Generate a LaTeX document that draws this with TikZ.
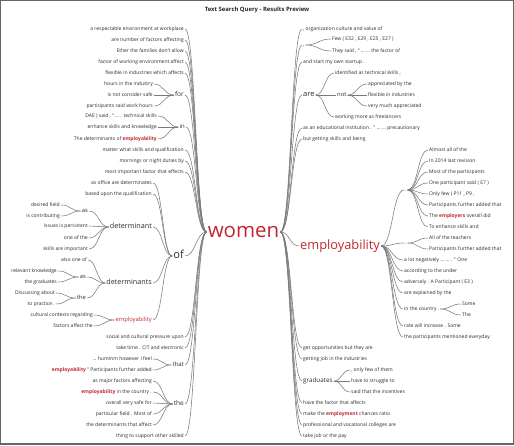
\documentclass[tikz,border=0pt]{standalone}
\usepackage{fontspec}
\setmainfont{Open Sans}
\usetikzlibrary{calc}
\definecolor{txt}{HTML}{2A2A2A}
\definecolor{hl}{HTML}{C0272D}
\definecolor{conncol}{HTML}{7A7A7A}
\newcommand\hw[1]{{\color{hl}\bfseries #1}}
\newcommand\lkL[2]{\draw[lk] let \p1=(#1.west), \p2=(#2.east) in (\p1) .. controls ({0.5*\x1+0.5*\x2},\y1) and ({0.5*\x1+0.5*\x2},\y2) .. (\p2);}
\newcommand\lkR[2]{\draw[lk] let \p1=(#1.east), \p2=(#2.west) in (\p1) .. controls ({0.5*\x1+0.5*\x2},\y1) and ({0.5*\x1+0.5*\x2},\y2) .. (\p2);}
\begin{document}
\begin{tikzpicture}[x=1pt,y=-1pt,
 fs/.style={font=\fontsize{#1}{#1}\selectfont, text height={#1pt*0.72}, text depth={#1pt*0.22}, inner xsep=1pt, inner ysep=0pt, text=txt},
 lf/.style={fs=5.0, anchor=east},
 rt/.style={fs=5.0, anchor=west},
 lk/.style={draw=conncol, line width=0.55pt}]
\useasboundingbox (0,0) rectangle (514,446);
\draw[black!60, line width=1.2pt] (0.6,0.6) rectangle (513.4,444);

\node[font=\fontsize{5.9}{6}\selectfont\bfseries, text=black!85] (title) at (257,10) {Text Search Query - Results Preview};

\node[fs=20.5, text=hl] (w) at (243.5,232) {women};

% ---------- left side ----------
\node[lf] (l1) at (185,29) {a respectable environment at workplace};
\node[lf] (l2) at (185,40) {are number of factors affecting};
\node[lf] (l3) at (185,51) {Ether the families don’t allow};
\node[lf] (l4) at (185,62) {factor of working environment affect};
\node[lf] (l5) at (185,73) {flexible in industries which affects};
\node[fs=6.5,anchor=east] (for) at (185,95) {for};
\node[lf] (for1) at (154,84) {hours in the industry};
\node[lf] (for2) at (154,95) {is not consider safe};
\node[lf] (for3) at (154,106) {participants said work hours};
\node[fs=6,anchor=east] (in) at (186,127) {in};
\node[lf] (in1) at (158,116) {DAE ) said , “ … . technical skills};
\node[lf] (in2) at (158,127) {enhance skills and knowledge};
\node[lf] (in3) at (158,139) {The determinants of \hw{employability}};
\node[lf] (l6) at (185,150) {matter what skills and qualification};
\node[lf] (l7) at (185,161) {mornings or night duties by};
\node[lf] (l8) at (185,172) {most important factor that effects};
\node[fs=11,anchor=east] (of) at (185,256) {of};
\node[lf] (of1) at (153,183) {as office are determinates};
\node[lf] (of2) at (153,194) {based upon the qualification};
\node[fs=7.2,anchor=east] (dt) at (153,227) {determinant};
\node[fs=5.8,anchor=east] (dtas) at (89,211) {as};
\node[lf] (dtas1) at (61,205) {desired field};
\node[lf] (dtas2) at (61,216) {is contributing};
\node[lf] (dt2) at (89,226) {issues is persistent};
\node[lf] (dt3) at (89,238) {one of the};
\node[lf] (dt4) at (89,249) {skills are important};
\node[fs=7.2,anchor=east] (dts) at (153,283) {determinants};
\node[lf] (dts1) at (88,260) {also one of};
\node[fs=5.8,anchor=east] (dtsas) at (87,277) {as};
\node[lf] (dtsas1) at (58,271) {relevant knowledge};
\node[lf] (dtsas2) at (58,282) {the graduates};
\node[fs=5.8,anchor=east] (dtsthe) at (87,298) {the};
\node[lf] (dtsthe1) at (56,293) {Discussing about};
\node[lf] (dtsthe2) at (56,304) {to practice .};
\node[fs=5.8,anchor=east,text=hl] (ofemp) at (153,320) {employability};
\node[lf] (ofemp1) at (94,315) {cultural contexts regarding};
\node[lf] (ofemp2) at (94,326) {factors affect the};
\node[lf] (l9) at (185,337) {social and cultural pressure upon};
\node[lf] (l10) at (185,348) {take time . CIT and electronic};
\node[fs=6,anchor=east] (that) at (185,365) {that};
\node[lf] (that1) at (153,359) {… hummm however I feel};
\node[lf] (that2) at (153,370) {\hw{employability} ” Participants further added};
\node[fs=6.5,anchor=east] (the) at (185,404) {the};
\node[lf] (the1) at (153,381) {as major factors affecting};
\node[lf] (the2) at (153,392) {\hw{employability} in the country .};
\node[lf] (the3) at (153,403) {overall very safe for};
\node[lf] (the4) at (153,414) {particular field . Most of};
\node[lf] (the5) at (153,425) {the determinants that affect};
\node[lf] (l11) at (185,436) {thing to support other skilled};

\foreach \c in {l1,l2,l3,l4,l5,for,in,l6,l7,l8,of,l9,l10,that,the,l11} {\lkL{w}{\c}}
\foreach \c in {for1,for2,for3} {\lkL{for}{\c}}
\foreach \c in {in1,in2,in3} {\lkL{in}{\c}}
\foreach \c in {of1,of2,dt,dts,ofemp} {\lkL{of}{\c}}
\foreach \c in {dtas,dt2,dt3,dt4} {\lkL{dt}{\c}}
\foreach \c in {dtas1,dtas2} {\lkL{dtas}{\c}}
\foreach \c in {dts1,dtsas,dtsthe} {\lkL{dts}{\c}}
\foreach \c in {dtsas1,dtsas2} {\lkL{dtsas}{\c}}
\foreach \c in {dtsthe1,dtsthe2} {\lkL{dtsthe}{\c}}
\foreach \c in {ofemp1,ofemp2} {\lkL{ofemp}{\c}}
\foreach \c in {that1,that2} {\lkL{that}{\c}}
\foreach \c in {the1,the2,the3,the4,the5} {\lkL{the}{\c}}

% ---------- right side ----------
\node[rt] (r1) at (302,29) {, organization culture and value of};
\node[fs=5,anchor=west] (rc) at (302,45) {,};
\node[rt] (rc1) at (331,39) {Few ( E32 , E29 , E25 , E27 )};
\node[rt] (rc2) at (331,51) {They said , “ … … the factor of};
\node[rt] (r2) at (302,62) {and start my own startup .};
\node[fs=7.5,anchor=west] (are) at (302,95) {are};
\node[rt] (are1) at (334,73) {identified as technical skills ,};
\node[fs=5.8,anchor=west] (not) at (336,95) {not};
\node[rt] (not1) at (367,84) {appreciated by the};
\node[rt] (not2) at (367,95) {flexible in industries};
\node[rt] (not3) at (367,106) {very much appreciated};
\node[rt] (are3) at (334,117) {working more as freelancers};
\node[rt] (r3) at (302,128) {as an educational institution . ” … … precautionary};
\node[rt] (r4) at (302,139) {but getting skills and being};
\node[fs=12.8,anchor=west,text=hl] (emp) at (299,246) {employability};
\node[fs=5,anchor=west] (d1) at (404,190) {.};
\node[rt] (d1a) at (428,150) {Almost all of the};
\node[rt] (d1b) at (428,161) {In 2014 last revision};
\node[rt] (d1c) at (428,172) {Most of the participants};
\node[rt] (d1d) at (428,183) {One participant said ( E7 )};
\node[rt] (d1e) at (428,194) {Only few ( P11 , P9 ,};
\node[rt] (d1f) at (428,205) {Participants further added that};
\node[rt] (d1g) at (428,216) {The \hw{employers} overall did};
\node[rt] (d1h) at (428,227) {To enhance skills and};
\node[fs=5,anchor=west] (d2) at (404,243) {.};
\node[rt] (d2a) at (428,238) {All of the teachers};
\node[rt] (d2b) at (428,249) {Participants further added that};
\node[rt] (e1) at (403,260) {a lot negatively … … . ” One};
\node[rt] (e2) at (403,271) {according to the under};
\node[rt] (e3) at (403,282) {adversely . A Participant ( E3 )};
\node[rt] (e4) at (403,293) {are explained by the};
\node[rt] (e5) at (403,309) {in the country .};
\node[rt] (e5a) at (461,304) {Some};
\node[rt] (e5b) at (461,315) {The};
\node[rt] (e6) at (403,326) {rate will increase . Some};
\node[rt] (e7) at (403,337) {the participants mentioned everyday};
\node[rt] (r5) at (302,348) {get opportunities but they are};
\node[rt] (r6) at (302,359) {getting job in the industries};
\node[fs=6.3,anchor=west] (gr) at (302,381) {graduates};
\node[rt] (gr1) at (350,370) {, only few of them};
\node[rt] (gr2) at (350,381) {have to struggle to};
\node[rt] (gr3) at (350,392) {said that the incentives};
\node[rt] (r7) at (302,403) {have the factor that affects};
\node[rt] (r8) at (302,414) {make the \hw{employment} chances ratio};
\node[rt] (r9) at (302,425) {professional and vocational colleges are};
\node[rt] (r10) at (302,436) {take job or the pay};

\foreach \c in {r1,rc,r2,are,r3,r4,emp,r5,r6,gr,r7,r8,r9,r10} {\lkR{w}{\c}}
\foreach \c in {rc1,rc2} {\lkR{rc}{\c}}
\foreach \c in {are1,not,are3} {\lkR{are}{\c}}
\foreach \c in {not1,not2,not3} {\lkR{not}{\c}}
\foreach \c in {d1,d2,e1,e2,e3,e4,e5,e6,e7} {\lkR{emp}{\c}}
\foreach \c in {d1a,d1b,d1c,d1d,d1e,d1f,d1g,d1h} {\lkR{d1}{\c}}
\foreach \c in {d2a,d2b} {\lkR{d2}{\c}}
\foreach \c in {e5a,e5b} {\lkR{e5}{\c}}
\foreach \c in {gr1,gr2,gr3} {\lkR{gr}{\c}}
\end{tikzpicture}
\end{document}
